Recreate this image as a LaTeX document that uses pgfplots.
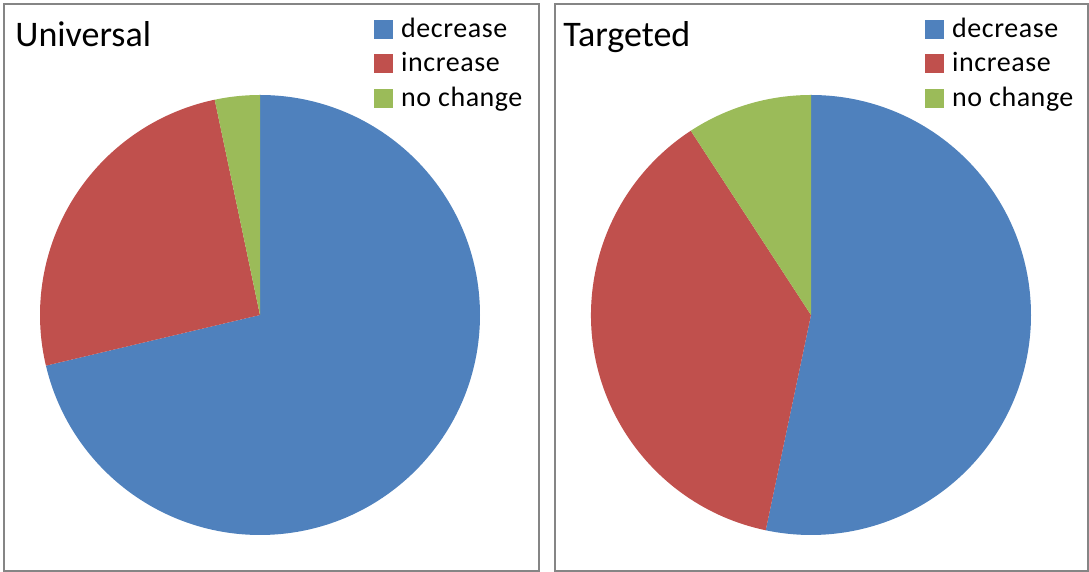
\documentclass[border=0pt]{standalone}
\usepackage{pgfplots}
\pgfplotsset{compat=1.18}
\usepackage{pgfplotstable}
\usepackage{fontspec}
\setmainfont{Carlito}
\newfontfamily\legfont[LetterSpace=2]{Carlito}

\definecolor{cdec}{HTML}{4F81BD}
\definecolor{cinc}{HTML}{C0504D}
\definecolor{cnoc}{HTML}{9BBB59}

% shares in percent
\pgfplotstableread{
label value
decrease 71.3
increase 25.4
nochange 3.3
}\univ
\pgfplotstableread{
label value
decrease 53.3
increase 37.5
nochange 9.2
}\targ

% cut angles of a pie, clockwise from 12 o'clock
\newcommand{\pieangles}[3]{%
  \pgfplotstablegetelem{0}{value}\of{#1}\pgfmathsetmacro{#2}{90-3.6*\pgfplotsretval}%
  \pgfplotstablegetelem{1}{value}\of{#1}\pgfmathsetmacro{#3}{#2-3.6*\pgfplotsretval}%
}
\newcommand{\drawpie}[2]{%
  \fill[cdec] (axis cs:256,256) -- ++(90:110pt) arc[start angle=90, end angle=#1, radius=110pt] -- cycle;
  \fill[cinc] (axis cs:256,256) -- ++(#1:110pt) arc[start angle=#1, end angle=#2, radius=110pt] -- cycle;
  \fill[cnoc] (axis cs:256,256) -- ++(#2:110pt) arc[start angle=#2, end angle=-270, radius=110pt] -- cycle;
}

\pgfplotsset{
  panel/.style={
    anchor=south west, scale only axis, x=0.5pt, y=0.5pt,
    xmin=0, ymin=0, ymax=567, ticks=none, clip=false,
    axis line style={draw=black!48, line width=1pt},
    legend style={at={(axis cs:370,557)}, anchor=north west, draw=none, fill=none,
      font=\legfont\fontsize{14}{16}\selectfont, row sep=1.9pt, column sep=2pt,
      inner sep=0pt, cells={anchor=west}},
    legend cell align=left,
  },
}

\begin{document}
\begin{tikzpicture}
\path[use as bounding box] (0,0) rectangle (544.5pt,286pt);
\pieangles{\univ}{\ua}{\ub}
\pieangles{\targ}{\ta}{\tb}

\begin{axis}[panel, at={(2pt,0.5pt)}, xmax=535]
  \addlegendimage{legend image code/.code={\fill[cdec] (0pt,-4.5pt) rectangle (9pt,4.5pt);}}
  \addlegendentry{decrease}
  \addlegendimage{legend image code/.code={\fill[cinc] (0pt,-4.5pt) rectangle (9pt,4.5pt);}}
  \addlegendentry{increase}
  \addlegendimage{legend image code/.code={\fill[cnoc] (0pt,-4.5pt) rectangle (9pt,4.5pt);}}
  \addlegendentry{no change}
  \drawpie{\ua}{\ub}
  \node[anchor=base west, inner sep=0pt, font=\fontsize{18}{20}\selectfont] at (axis cs:11,524) {Universal};
\end{axis}

\begin{axis}[panel, at={(277.5pt,0.5pt)}, xmax=533]
  \addlegendimage{legend image code/.code={\fill[cdec] (0pt,-4.5pt) rectangle (9pt,4.5pt);}}
  \addlegendentry{decrease}
  \addlegendimage{legend image code/.code={\fill[cinc] (0pt,-4.5pt) rectangle (9pt,4.5pt);}}
  \addlegendentry{increase}
  \addlegendimage{legend image code/.code={\fill[cnoc] (0pt,-4.5pt) rectangle (9pt,4.5pt);}}
  \addlegendentry{no change}
  \drawpie{\ta}{\tb}
  \node[anchor=base west, inner sep=0pt, font=\fontsize{18}{20}\selectfont] at (axis cs:8,524) {Targeted};
\end{axis}
\end{tikzpicture}
\end{document}
